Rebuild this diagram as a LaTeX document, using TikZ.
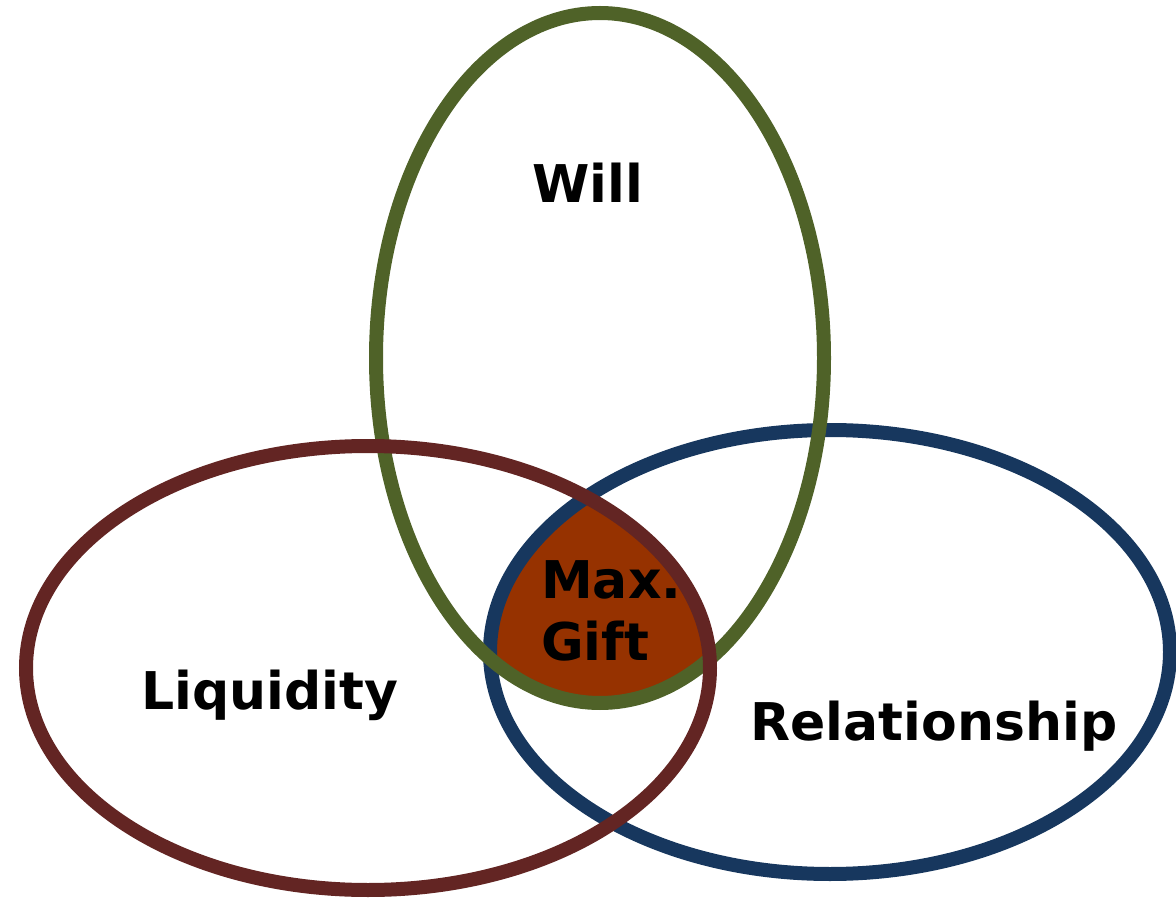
\documentclass[tikz,border=0pt]{standalone}
\usepackage{fontspec}
\setmainfont{DejaVu Sans}
\definecolor{willc}{HTML}{4F6228}
\definecolor{liqc}{HTML}{632523}
\definecolor{relc}{HTML}{17375E}
\definecolor{giftc}{HTML}{963200}
\tikzset{
  ring/.style={line width=14pt},
  lbl/.style={font=\fontsize{52}{62}\selectfont\bfseries, inner sep=0pt, anchor=base}
}
\begin{document}
\begin{tikzpicture}[x=1pt,y=-1pt]
\useasboundingbox (0,0) rectangle (1176,901);
% intersection fill
\begin{scope}
  \clip (600,358) ellipse [x radius=224, y radius=345];
  \clip (368,668) ellipse [x radius=342, y radius=222];
  \fill[giftc] (830,652) ellipse [x radius=340, y radius=222];
\end{scope}
\draw[ring, relc] (830,652) ellipse [x radius=340, y radius=222];
\draw[ring, willc] (600,358) ellipse [x radius=224, y radius=345];
\draw[ring, liqc] (368,668) ellipse [x radius=342, y radius=222];
\node[lbl] (will) at (588,203) {Will};
\node[lbl] (liq) at (270,709) {Liquidity};
\node[lbl] (rel) at (934,740) {Relationship};
\node[lbl, anchor=base west] (max) at (541,598) {Max.};
\node[lbl, anchor=base west] (gift) at (541,660) {Gift};
\end{tikzpicture}
\end{document}
